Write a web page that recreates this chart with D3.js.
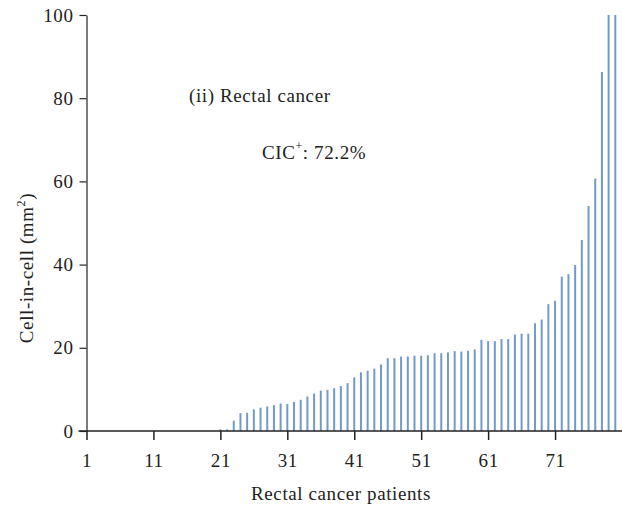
<!DOCTYPE html>
<html lang="en">
<head>
  <meta charset="UTF-8" />
  <script src="https://d3js.org/d3.v7.min.js"></script>
  <title>Rectal cancer CIC</title>
  <style>
    body { margin: 0; background: #fff; }
    svg text { font-family: "Liberation Serif", "DejaVu Serif", serif !important; fill: #222; }
  </style>
</head>
<body>
<script type="text/javascript">
	var width = 622; var height = 511;

	// patient numbers 1..80, cell-in-cell values (mm^2)
	var patients = d3.range(1, 81);
	var cicValues = [
		0, 0, 0, 0, 0, 0, 0, 0, 0, 0,
		0, 0, 0, 0, 0, 0, 0, 0, 0, 0,
		0.4, 0.4, 2.5, 4.3, 4.4, 5.2, 5.6, 5.9, 6.2, 6.6,
		6.5, 7.0, 7.5, 8.3, 9.0, 9.7, 9.9, 10.3, 10.8, 11.5,
		12.9, 14.1, 14.5, 15.0, 16.0, 17.5, 17.5, 17.9, 17.9, 18.1,
		18.1, 18.2, 18.7, 18.7, 18.9, 19.2, 19.1, 19.3, 19.6, 21.9,
		21.6, 21.6, 22.1, 22.1, 23.2, 23.4, 23.4, 25.9, 26.8, 30.5,
		31.3, 37.1, 37.7, 39.9, 45.9, 54.1, 60.7, 86.3, 100, 100
	];
	var xTicks = [1, 11, 21, 31, 41, 51, 61, 71];
	var yTicks = [0, 20, 40, 60, 80, 100];

	var data = patients.map(function(p, i){ return {patient: p, value: cicValues[i]}; });

	var svg = d3.select("body").append("svg").attr("width", width).attr("height", height);

	var x = d3.scaleLinear().domain([1, 81]).range([86.5, 622]);
	var y = d3.scaleLinear().domain([0, 100]).range([431, 15]);

	// bars (thin lines)
	svg.append("g").selectAll("rect").data(data.filter(function(d){ return d.value > 0; }))
		.enter().append("rect")
		.attr("x", function(d){ return x(d.patient) - 1; })
		.attr("width", 2)
		.attr("y", function(d){ return y(d.value); })
		.attr("height", function(d){ return y(0) - y(d.value); })
		.attr("fill", "#729acb");

	// x axis
	var xAxis = svg.append("g").attr("transform", "translate(0," + y(0) + ")")
		.call(d3.axisBottom(x).tickValues(xTicks).tickSize(9).tickPadding(14).tickSizeOuter(0));
	xAxis.select(".domain").attr("stroke", "#222").attr("stroke-width", 1.5).attr("d", "M" + (x(1) - 8) + ",0H" + width);
	xAxis.selectAll(".tick line").attr("stroke", "#222").attr("stroke-width", 1.5);
	xAxis.selectAll("text").attr("font-size", 19).attr("letter-spacing", 0.6);

	// y axis
	var yAxis = svg.append("g").attr("transform", "translate(" + x(1) + ",0)")
		.call(d3.axisLeft(y).tickValues(yTicks).tickSize(7).tickPadding(6).tickSizeOuter(0));
	yAxis.select(".domain").attr("stroke", "#222").attr("stroke-width", 1.2);
	yAxis.selectAll(".tick line").attr("stroke", "#222").attr("stroke-width", 1.2);
	yAxis.selectAll("text").attr("font-size", 19).attr("letter-spacing", 0.6);

	// axis titles
	svg.append("text").attr("x", 341).attr("y", 500).attr("text-anchor", "middle")
		.attr("font-size", 19).attr("letter-spacing", 0.6).text("Rectal cancer patients");

	var yt = svg.append("text").attr("transform", "translate(33,268) rotate(-90)")
		.attr("text-anchor", "middle").attr("font-size", 19).attr("letter-spacing", 0.6);
	yt.append("tspan").text("Cell-in-cell (mm");
	yt.append("tspan").attr("font-size", 12).attr("dy", -8).text("2");
	yt.append("tspan").attr("dy", 8).text(")");

	// annotations
	svg.append("text").attr("x", 189).attr("y", 102).attr("font-size", 19).attr("letter-spacing", 0.6)
		.text("(ii) Rectal cancer");

	var cic = svg.append("text").attr("x", 262).attr("y", 159).attr("font-size", 19).attr("letter-spacing", 0.6);
	cic.append("tspan").text("CIC");
	cic.append("tspan").attr("font-size", 12).attr("dy", -9).text("+");
	cic.append("tspan").attr("dy", 9).text(": 72.2%");
</script>
</body>
</html>
